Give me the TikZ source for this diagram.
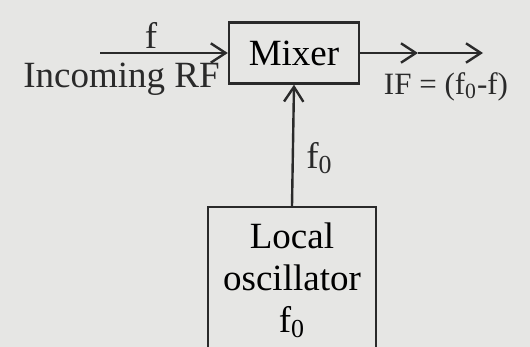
\documentclass[tikz,border=0pt]{standalone}
\usepackage{fontspec}
\setmainfont{Liberation Serif}
\usepackage{xcolor}
\usetikzlibrary{arrows.meta,positioning,calc}
\definecolor{PaperGray}{HTML}{E6E6E4}
\definecolor{InkDark}{HTML}{2A2A2A}
\newcommand{\fo}{f\textsubscript{0}}
\tikzset{
  blockbox/.style={draw=InkDark,line width=1.2pt,align=center,inner sep=2pt,font=\fontsize{18.5}{21}\selectfont},
  sigarrow/.style={-{Straight Barb[length=2.6mm,width=3.4mm,line width=1.2pt]},line width=1.2pt,draw=InkDark},
  siglabel/.style={text=InkDark,inner sep=1pt,font=\fontsize{18.5}{21}\selectfont}
}

\begin{document}
\begin{tikzpicture}[x=0.5pt,y=-0.5pt]
\fill[PaperGray] (0,0) rectangle (530,347);
\useasboundingbox (0,0) rectangle (530,347);
\node[blockbox,minimum width=65pt,minimum height=30.5pt] (mix) at (294,53) {Mixer};
\node[blockbox,minimum width=84pt,minimum height=73pt] (lo) at (292,280) {Local\\oscillator\\\fo};
\coordinate (rfin) at (100,53);
\coordinate (ifmid) at (418,53);
\coordinate (ifout) at (483,53);
\draw[sigarrow] (rfin)--(mix.west);
\draw[sigarrow] (mix.east)--(ifmid);
\draw[sigarrow] (ifmid)--(ifout);
\draw[sigarrow] (lo.north)--(mix.south);
\node[siglabel,above=1pt of $(rfin)!0.4!(mix.west)$] (flbl) {f};
\node[siglabel,anchor=north east] (rflbl) at (222,61) {Incoming RF};
\node[siglabel,anchor=north,font=\fontsize{15.5}{18}\selectfont] (iflbl) at (446,70) {IF = (\fo-f)};
\node[siglabel,anchor=west] (folbl) at (304,158) {\fo};
\end{tikzpicture}
\end{document}
